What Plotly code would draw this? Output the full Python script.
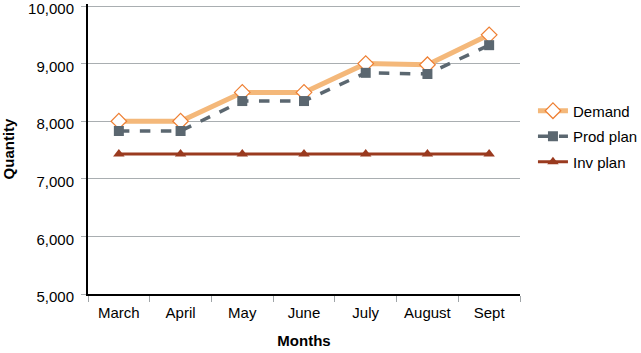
import plotly.graph_objects as go

months = ["March", "April", "May", "June", "July", "August", "Sept"]
demand = [8000, 8000, 8500, 8500, 9000, 8980, 9500]
prod_plan = [7830, 7830, 8350, 8350, 8840, 8820, 9320]
inv_plan = [7430, 7430, 7430, 7430, 7430, 7430, 7430]
y_ticks = [5000, 6000, 7000, 8000, 9000, 10000]

fig = go.Figure()
fig.add_trace(go.Scatter(
    x=months, y=demand, name="Demand", mode="lines+markers", legendgroup="a",
    line=dict(color="#F4B87A", width=5),
    marker=dict(symbol="diamond", size=12, color="white",
                line=dict(color="#EE7F33", width=1.2)),
))
fig.add_trace(go.Scatter(
    x=months, y=prod_plan, name="Prod plan", mode="lines+markers", legendgroup="b",
    line=dict(color="#5B6770", width=3.5, dash="dash"),
    marker=dict(symbol="square", size=10, color="#5B6770"),
))
fig.add_trace(go.Scatter(
    x=months, y=inv_plan, name="Inv plan", mode="lines+markers", legendgroup="c",
    line=dict(color="#9A3A1F", width=3),
    marker=dict(symbol="triangle-up", size=10, color="#9A3A1F"),
))

fig.update_layout(
    width=641, height=353,
    margin=dict(l=88, r=121, t=4, b=59, autoexpand=False),
    paper_bgcolor="white", plot_bgcolor="white",
    font=dict(family="Liberation Sans, Arial, sans-serif", size=15, color="black"),
    showlegend=True,
    legend=dict(x=1.03, y=0.688, xanchor="left", yanchor="top",
                font=dict(size=15), itemwidth=30, tracegroupgap=3,
                bgcolor="rgba(0,0,0,0)"),
)
fig.update_xaxes(
    type="category", range=[-0.5, 6.5],
    showline=True, linecolor="black", linewidth=2,
    showgrid=False, ticks="outside", tickson="boundaries",
    ticklen=6, tickcolor="#A0A5A8", tickwidth=1,
    ticklabelstandoff=4,
    title=dict(text="<b>Months</b>", font=dict(size=15), standoff=15),
    tickfont=dict(size=15),
)
fig.update_yaxes(
    range=[5000, 10035], tickvals=y_ticks, tickformat=",d",
    showline=True, linecolor="black", linewidth=2,
    showgrid=True, gridcolor="#A9AEB1", gridwidth=1,
    ticks="outside", ticklen=5, tickcolor="#A9AEB1",
    ticklabelstandoff=4, ticklabelshift=3, ticklabeloverflow="allow",
    title=dict(text="<b>Quantity</b>", font=dict(size=15), standoff=12),
    tickfont=dict(size=15), zeroline=False,
)

fig.write_html("out.html")
